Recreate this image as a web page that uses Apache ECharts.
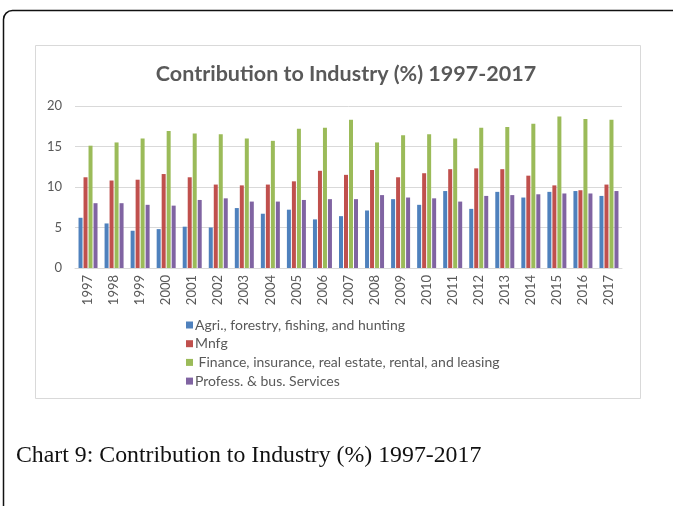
<!DOCTYPE html>
<html>
<head>
<meta charset="utf-8">
<script src="https://cdn.jsdelivr.net/npm/echarts@6/dist/echarts.min.js"></script>
<style>
  html, body { margin: 0; padding: 0; background: #fff; }
  #chart { width: 673px; height: 506px; }
</style>
</head>
<body>
<div id="chart"></div>
<script>
// Years on the category axis
const years = ['1997','1998','1999','2000','2001','2002','2003','2004','2005','2006','2007',
               '2008','2009','2010','2011','2012','2013','2014','2015','2016','2017'];

// Share of industry output (%) by sector
const agri = [6.2, 5.5, 4.6, 4.8, 5.1, 5.0, 7.4, 6.7, 7.2, 6.0, 6.4,
              7.1, 8.5, 7.8, 9.5, 7.3, 9.4, 8.7, 9.4, 9.5, 8.9];
const mnfg = [11.2, 10.8, 10.9, 11.6, 11.2, 10.3, 10.2, 10.3, 10.7, 12.0, 11.5,
              12.1, 11.2, 11.7, 12.2, 12.3, 12.2, 11.4, 10.2, 9.6, 10.3];
const finance = [15.1, 15.5, 16.0, 16.9, 16.6, 16.5, 16.0, 15.7, 17.2, 17.3, 18.3,
                 15.5, 16.4, 16.5, 16.0, 17.3, 17.4, 17.8, 18.7, 18.4, 18.3];
const profess = [8.0, 8.0, 7.8, 7.7, 8.4, 8.6, 8.2, 8.2, 8.4, 8.5, 8.5,
                 9.0, 8.7, 8.6, 8.2, 8.9, 9.0, 9.1, 9.2, 9.2, 9.5];

const seriesNames = ['Agri., forestry, fishing, and hunting', 'Mnfg',
                     ' Finance, insurance, real estate, rental, and leasing', 'Profess. & bus. Services'];
const yTicks = [0, 5, 10, 15, 20];

const colors = ['#4F81BD', '#C0504D', '#9BBB59', '#8064A2'];
const seriesData = [agri, mnfg, finance, profess];

const chart = echarts.init(document.getElementById('chart'));

const bars = seriesNames.map((name, i) => ({
  name: name,
  type: 'bar',
  data: seriesData[i],
  barWidth: 4,
  barGap: '25%',
  itemStyle: { color: colors[i] },
  emphasis: { disabled: true }
}));

chart.setOption({
  animation: false,
  color: colors,
  title: {
    text: 'Contribution to Industry (%) 1997-2017',
    left: 341,
    textAlign: 'center',
    top: 58,
    textStyle: { fontFamily: 'Lato', fontSize: 21.5, fontWeight: 'bold', color: '#595959' }
  },
  graphic: [
    {
      type: 'rect', silent: true, z: -10,
      shape: { x: 3.5, y: 10.5, width: 720, height: 520, r: 9 },
      style: { fill: 'none', stroke: '#111', lineWidth: 1.5 }
    },
    {
      type: 'rect', silent: true, z: -9,
      shape: { x: 35.5, y: 45.5, width: 605, height: 353 },
      style: { fill: '#fff', stroke: '#d9d9d9', lineWidth: 1 }
    },
    {
      type: 'text', silent: true,
      left: 16, top: 444,
      style: {
        text: 'Chart 9: Contribution to Industry (%) 1997-2017',
        fontFamily: 'Liberation Serif', fontSize: 23.8, fill: '#111'
      }
    }
  ],
  legend: {
    orient: 'vertical',
    left: 186,
    top: 318,
    padding: 0,
    itemWidth: 7,
    itemHeight: 7,
    itemGap: 4.7,
    icon: 'rect',
    data: seriesNames,
    textStyle: { fontFamily: 'Lato', fontSize: 14, color: '#595959', padding: [0, 0, 0, -3] }
  },
  grid: { left: 75, right: 51, top: 106, bottom: 238, containLabel: false },
  xAxis: {
    type: 'category',
    data: years,
    axisLine: { lineStyle: { color: '#d9d9d9' } },
    axisTick: { show: false },
    axisLabel: { rotate: 90, fontFamily: 'Lato', fontSize: 13, color: '#595959', margin: 7, interval: 0 }
  },
  yAxis: {
    type: 'value',
    min: yTicks[0],
    max: yTicks[yTicks.length - 1],
    interval: 5,
    axisLine: { show: false },
    axisTick: { show: false },
    splitLine: { lineStyle: { color: '#d9d9d9' } },
    axisLabel: { fontFamily: 'Lato', fontSize: 13, color: '#595959', margin: 13 }
  },
  series: bars
});
</script>
</body>
</html>
